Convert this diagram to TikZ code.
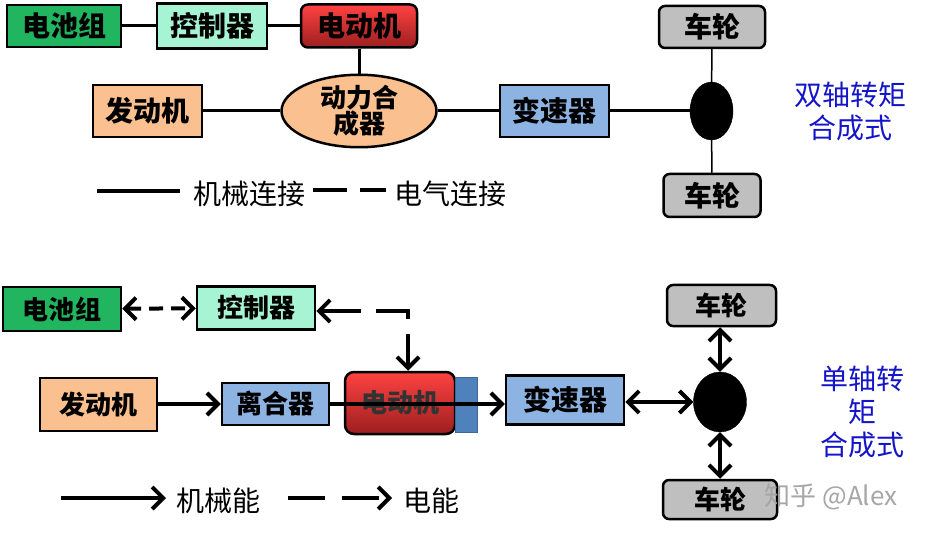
\documentclass[tikz,border=0pt]{standalone}
\usepackage{fontspec}
\newfontfamily\cjk{Noto Sans CJK SC}
\usetikzlibrary{shapes.geometric,arrows.meta}
\definecolor{cgreen}{HTML}{21B55F}
\definecolor{caqua}{HTML}{A6F4D4}
\definecolor{corange}{HTML}{FAC090}
\definecolor{cblue}{HTML}{8DB3E2}
\definecolor{cblock}{HTML}{4F81BD}
\definecolor{cgray}{HTML}{BFBFBF}
\definecolor{credtop}{HTML}{FF4242}
\definecolor{credbot}{HTML}{9C1F1F}
\definecolor{ctext}{HTML}{1414C8}
\begin{document}
\begin{tikzpicture}[x=1pt,y=-1pt,
  box/.style={draw=black, line width=2.5pt, inner sep=0pt, font=\cjk\bfseries\fontsize{28}{30}\selectfont},
  boxs/.style={box, font=\cjk\bfseries\fontsize{26}{28}\selectfont},
  redbox/.style={top color=credtop, bottom color=credbot, rounded corners=7pt},
  wheel/.style={fill=cgray, rounded corners=6pt},
  dotn/.style={ellipse, fill=black, draw=black, inner sep=0pt},
  conn/.style={line width=3pt},
  thin/.style={line width=1.5pt},
  arr/.style={line width=4pt, -{Straight Barb[length=11pt,width=22pt,line width=4pt]}},
  darr/.style={line width=4pt, {Straight Barb[length=11pt,width=22pt,line width=4pt]}-{Straight Barb[length=11pt,width=22pt,line width=4pt]}},
  legtext/.style={font=\cjk\fontsize{28}{30}\selectfont, inner sep=0pt},
  bluetext/.style={font=\cjk\fontsize{28}{33}\selectfont, text=ctext, align=center, inner sep=0pt}
]
\useasboundingbox (0,0) rectangle (926,537);
% ---------- top diagram ----------
\node[box, fill=cgreen, minimum width=114pt, minimum height=42pt] (bat1) at (64,26) {电池组};
\node[box, fill=caqua, minimum width=110pt, minimum height=45pt] (ctl1) at (212,26) {控制器};
\node[box, redbox, minimum width=116pt, minimum height=43pt] (mot1) at (359,26) {电动机};
\node[box, fill=corange, minimum width=109pt, minimum height=52pt] (eng1) at (147.5,111) {发动机};
\node[box, ellipse, fill=corange, minimum width=155pt, minimum height=56pt, align=center,
      font=\cjk\bfseries\fontsize{26}{26}\selectfont] (syn1) at (359,111) {动力合\\成器};
\node[box, fill=cblue, minimum width=109pt, minimum height=52pt] (gear1) at (554.5,111) {变速器};
\node[dotn, minimum width=43pt, minimum height=58pt] (dot1) at (711.5,111) {};
\node[box, wheel, minimum width=106pt, minimum height=42pt] (wt1) at (712,27) {车轮};
\node[box, wheel, minimum width=97pt, minimum height=43pt] (wb1) at (712,195.5) {车轮};
\node[bluetext] (lab1) at (850,111) {双轴转矩\\合成式};

\draw[conn] (bat1) -- (ctl1);
\draw[conn] (ctl1) -- (mot1);
\draw[conn] (mot1) -- (syn1);
\draw[conn] (eng1) -- (syn1);
\draw[conn] (syn1) -- (gear1);
\draw[conn] (gear1) -- (dot1);
\draw[thin] (wt1) -- (dot1);
\draw[thin] (dot1) -- (wb1);

% top legend
\coordinate (l1a) at (97,191);
\coordinate (l1b) at (180,191);
\coordinate (l1c) at (313,190);
\coordinate (l1d) at (386,190);
\draw[line width=4pt] (l1a) -- (l1b);
\node[legtext] (lt1) at (249,194) {机械连接};
\draw[line width=4pt, dash pattern=on 34pt off 13pt] (l1c) -- (l1d);
\node[legtext] (lt2) at (450,194) {电气连接};

% ---------- bottom diagram ----------
\node[boxs, fill=cgreen, minimum width=118pt, minimum height=44pt] (bat2) at (62,309) {电池组};
\node[boxs, fill=caqua, minimum width=118pt, minimum height=43pt] (ctl2) at (256,308) {控制器};
\node[boxs, fill=corange, minimum width=117pt, minimum height=53pt] (eng2) at (98.5,404.5) {发动机};
\node[boxs, fill=cblue, minimum width=107pt, minimum height=42pt] (clu2) at (275.5,404) {离合器};
\node[boxs, redbox, rounded corners=9pt, minimum width=110pt, minimum height=62pt] (mot2) at (400,403)
  {\textcolor{black!80}{电动机}};
\node[fill=cblock, draw=cblock!80!black, line width=1pt, minimum width=22pt, minimum height=55pt, inner sep=0pt] (blk2) at (466,404.5) {};
\node[box, fill=cblue, minimum width=118pt, minimum height=49pt] (gear2) at (565,400) {变速器};
\node[dotn, minimum width=53pt, minimum height=60pt] (dot2) at (720,402) {};
\node[boxs, wheel, minimum width=109pt, minimum height=41pt] (wt2) at (721.5,305.5) {车轮};
\node[boxs, wheel, minimum width=114pt, minimum height=39pt] (wb2) at (720,499.5) {车轮};
\node[bluetext] (lab2) at (862,412) {单轴转\\矩\\合成式};

\draw[darr, dash pattern=on 14pt off 8pt] (bat2) -- (ctl2);
\coordinate (bend) at (408,311);
\draw[line width=4pt, dash pattern=on 40pt off 15pt,
      {Straight Barb[length=11pt,width=22pt,line width=4pt]}-{Straight Barb[length=11pt,width=22pt,line width=4pt]}]
      (ctl2.east |- bend) -- (bend) -- (bend |- mot2.north);
\draw[arr] (eng2.east |- clu2) -- (clu2);
\draw[arr] (clu2.east) -- (gear2.west |- clu2.east);
\draw[darr] (gear2.east |- dot2) -- (dot2.west);
\draw[darr] (wt2.south -| dot2) -- (dot2.north);
\draw[darr] (dot2.south) -- (wb2.north -| dot2);

% bottom legend
\coordinate (l2a) at (61,498);
\coordinate (l2b) at (166,498);
\coordinate (l2c) at (288,498);
\coordinate (l2d) at (392,498);
\draw[arr] (l2a) -- (l2b);
\node[legtext] (lt3) at (218,501) {机械能};
\draw[arr, dash pattern=on 37pt off 17pt] (l2c) -- (l2d);
\node[legtext] (lt4) at (431,501) {电能};

% watermark
\node[font=\cjk\fontsize{26}{28}\selectfont, text=black!35, inner sep=0pt] (wm) at (831,497) {知乎 @Alex};
\end{tikzpicture}
\end{document}
